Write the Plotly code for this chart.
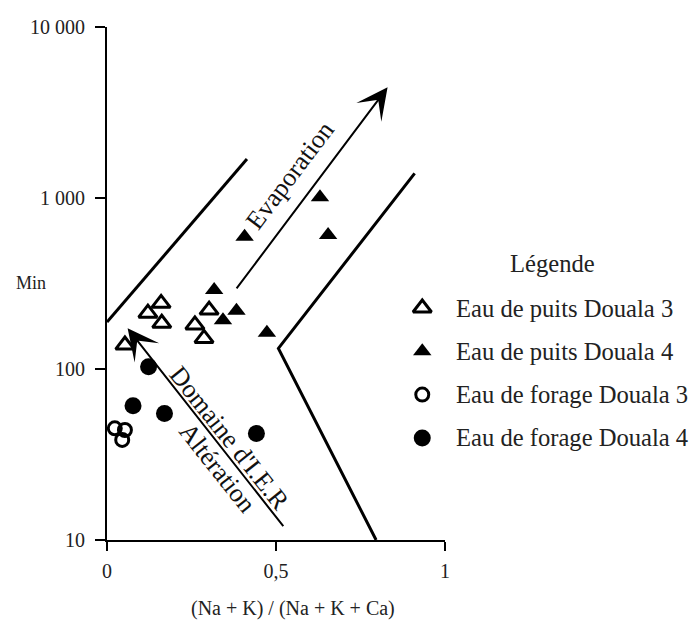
import numpy as np
import plotly.graph_objects as go

# ---------------- data ----------------
puits3_x = [0.160, 0.121, 0.162, 0.302, 0.260, 0.287, 0.053]
puits3_y = [242, 212, 185, 221, 181, 151, 138]

puits4_x = [0.317, 0.343, 0.383, 0.473, 0.407, 0.630, 0.654]
puits4_y = [290, 193, 219, 163, 594, 1009, 608]

forage3_x = [0.023, 0.053, 0.045]
forage3_y = [45, 44, 38.5]

forage4_x = [0.123, 0.077, 0.170, 0.442]
forage4_y = [103, 61, 55, 42]

# Gibbs domain boundaries
left_bound_x = [0.0, 0.414]
left_bound_y = [188, 1690]
right_bound_x = [0.910, 0.507, 0.796]
right_bound_y = [1393, 132, 10]

# arrows (tail -> tip)
evap_tail = (0.380, 290)
evap_tip = (0.830, 4437)
alt_tail = (0.525, 11.8)
alt_tip = (0.061, 173)

x_tickvals = [0, 0.5, 1]
x_ticktext = ["0", "0,5", "1"]
y_tickvals = [10, 100, 1000, 10000]
y_ticktext = ["10", "100", "1 000", "10 000"]

legend_labels = ["Eau de puits Douala 3", "Eau de puits Douala 4",
                 "Eau de forage Douala 3", "Eau de forage Douala 4"]

FONT = "Liberation Serif"
W, H = 693, 622
ML, MR, MT, MB = 107, 5, 27, 82
plot_w = W - ML - MR
x_dom_end = 341 / plot_w

fig = go.Figure()

line_style = dict(color="black", width=3)
fig.add_trace(go.Scatter(x=left_bound_x, y=left_bound_y, mode="lines",
                         line=line_style, showlegend=False, hoverinfo="skip"))
fig.add_trace(go.Scatter(x=right_bound_x, y=right_bound_y, mode="lines",
                         line=line_style, showlegend=False, hoverinfo="skip"))

styles = [
    dict(symbol="triangle-up-open", size=16, color="black", line=dict(width=3, color="black")),
    dict(symbol="triangle-up", size=16, color="black"),
    dict(symbol="circle-open", size=13, color="black", line=dict(width=3, color="black")),
    dict(symbol="circle", size=17, color="black"),
]
series = [(puits3_x, puits3_y), (puits4_x, puits4_y),
          (forage3_x, forage3_y), (forage4_x, forage4_y)]
for (sx, sy), st, name in zip(series, styles, legend_labels):
    fig.add_trace(go.Scatter(x=sx, y=sy, mode="markers", marker=st,
                             name=name, showlegend=False, cliponaxis=False))

# manual legend on an overlay axis (pixel-like coordinates)
leg_marker_x = 425
leg_text_x = 457
leg_row0 = 308
leg_row_gap = 43.3
for i, (st, name) in enumerate(zip(styles, legend_labels)):
    yy = leg_row0 + i * leg_row_gap
    fig.add_trace(go.Scatter(x=[leg_marker_x], y=[yy], mode="markers",
                             marker=st, xaxis="x2", yaxis="y2",
                             showlegend=False, hoverinfo="skip", cliponaxis=False))
    fig.add_annotation(x=leg_text_x, y=yy, xref="x2", yref="y2", text=name,
                       showarrow=False, xanchor="left", yanchor="middle",
                       font=dict(family=FONT, size=24.6, color="#222"))
fig.add_annotation(x=556, y=263, xref="x2", yref="y2", text="Légende",
                   showarrow=False, xanchor="center", yanchor="middle",
                   font=dict(family=FONT, size=24.6, color="#222"))

# arrows
for tail, tip in [(evap_tail, evap_tip), (alt_tail, alt_tip)]:
    fig.add_annotation(x=tip[0], y=np.log10(tip[1]), ax=tail[0], ay=np.log10(tail[1]),
                       xref="x", yref="y", axref="x", ayref="y", text="",
                       showarrow=True, arrowhead=3, arrowsize=2.6, arrowwidth=2,
                       arrowcolor="black", standoff=0, startstandoff=0)

# rotated labels
fig.add_annotation(x=0.540, y=3.134, xref="x", yref="y", text="Evaporation",
                   showarrow=False, textangle=-52.9,
                   font=dict(family=FONT, size=26, color="#111"))
fig.add_annotation(x=0.363, y=1.595, xref="x", yref="y", text="Domaine d'I.E.R",
                   showarrow=False, textangle=51.5,
                   font=dict(family=FONT, size=26, color="#111"))
fig.add_annotation(x=0.326, y=1.425, xref="x", yref="y", text="Altération",
                   showarrow=False, textangle=51.5,
                   font=dict(family=FONT, size=26, color="#111"))

# axis titles
fig.add_annotation(x=(295 - ML) / plot_w, y=(540 - 608) / (H - MT - MB), xref="paper", yref="paper",
                   text="(Na + K) / (Na + K + Ca)", showarrow=False,
                   xanchor="center", yanchor="middle",
                   font=dict(family=FONT, size=20, color="#222"))
fig.add_annotation(x=(30 - ML) / plot_w, y=(540 - 283) / (H - MT - MB), xref="paper", yref="paper",
                   text="Min", showarrow=False, xanchor="center", yanchor="middle",
                   font=dict(family=FONT, size=18, color="#222"))

axis_common = dict(showline=True, linecolor="black", linewidth=2, ticks="outside",
                   tickwidth=2, tickcolor="black", showgrid=False, zeroline=False,
                   tickfont=dict(family=FONT, size=20, color="#222"))

fig.update_layout(
    width=W, height=H,
    margin=dict(l=ML, r=MR, t=MT, b=MB),
    paper_bgcolor="white", plot_bgcolor="rgba(0,0,0,0)",
    showlegend=False,
    xaxis=dict(domain=[0, x_dom_end], range=[0, 1], tickvals=x_tickvals,
               ticktext=x_ticktext, ticklen=9, ticklabelstandoff=3, **axis_common),
    yaxis=dict(type="log", range=[1, 4], tickvals=y_tickvals, ticktext=y_ticktext,
               ticklen=10, ticklabelstandoff=6, **axis_common),
    xaxis2=dict(domain=[0, 1], range=[ML, W - MR], visible=False, anchor="y2"),
    yaxis2=dict(domain=[0, 1], range=[H - MB, MT], visible=False, anchor="x2"),
)

fig.write_html("out.html", config={"displayModeBar": False},
               post_script="document.body.style.margin='0';document.body.style.overflow='hidden';")
